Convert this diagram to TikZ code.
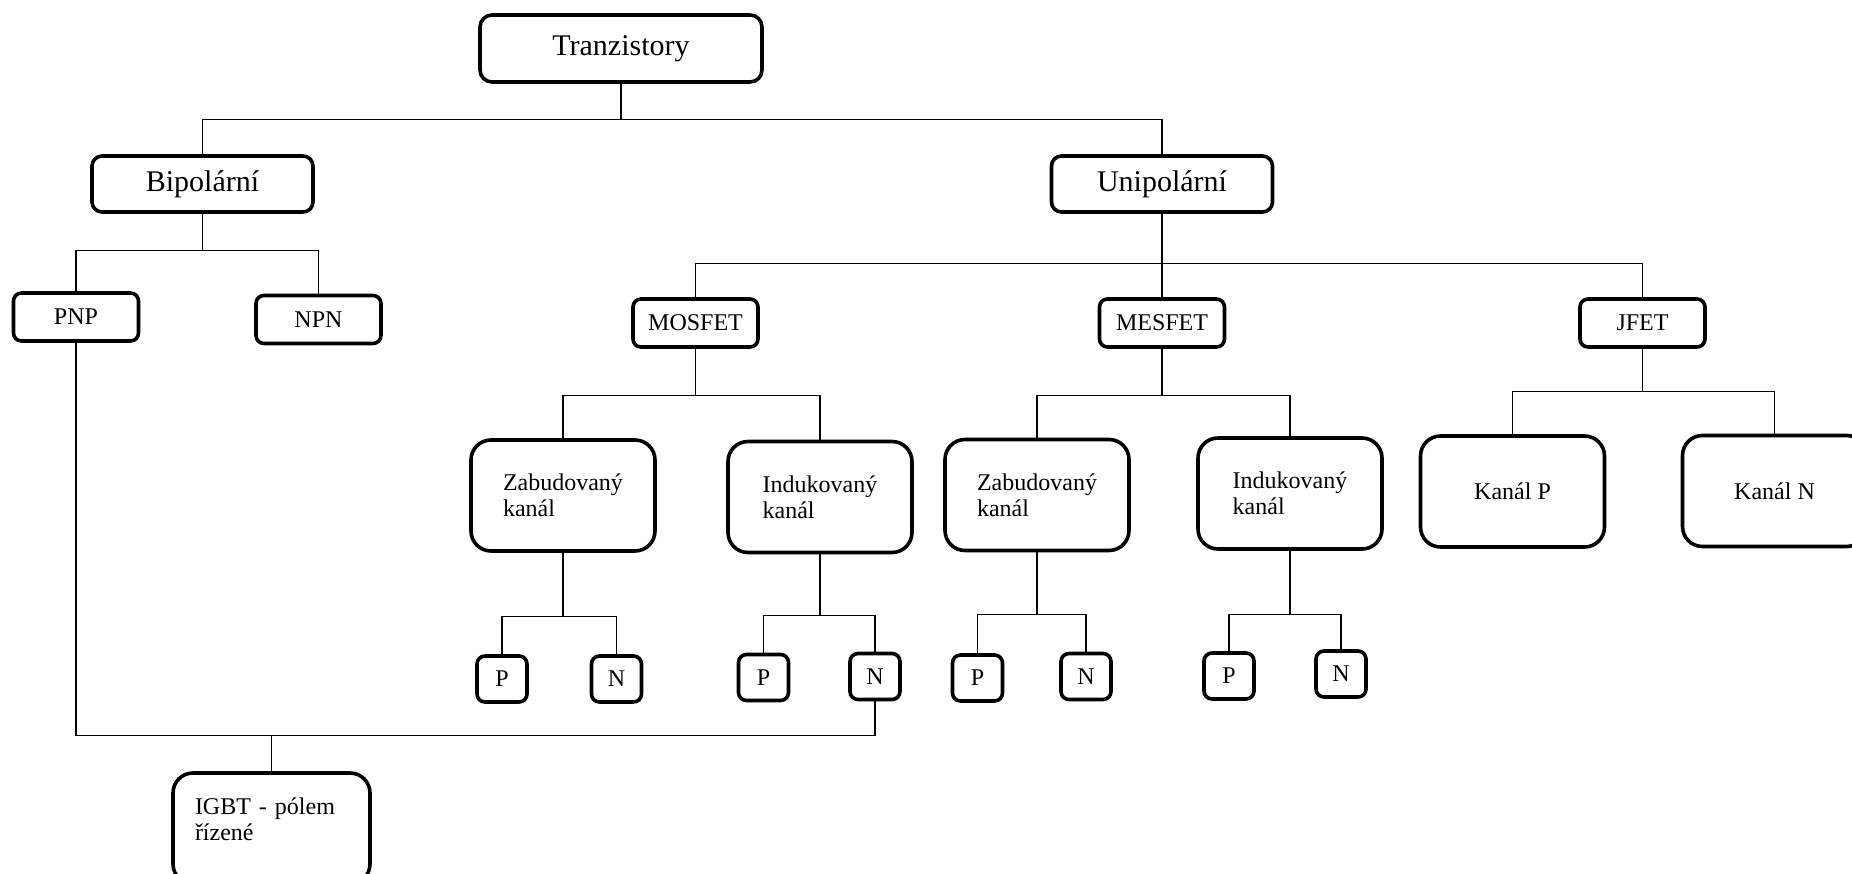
\documentclass[tikz,border=0pt]{standalone}
\usepackage{fontspec}
\setmainfont{Liberation Serif}
\begin{document}
\begin{tikzpicture}[x=0.5pt, y=-0.5pt,
    box/.style={draw, line width=1.8pt, inner sep=0pt},
    root/.style={box, rounded corners=6pt, minimum width=141pt, minimum height=33.5pt, font=\fontsize{15}{18}\selectfont},
    family/.style={box, rounded corners=5pt, minimum width=110.5pt, minimum height=28pt, font=\fontsize{15}{18}\selectfont},
    kind/.style={box, rounded corners=4pt, minimum width=62.5pt, minimum height=24pt, font=\fontsize{12}{13}\selectfont},
    chan/.style={box, rounded corners=10pt, minimum width=92pt, minimum height=55.5pt, align=left, font=\fontsize{12}{13}\selectfont},
    leaf/.style={box, rounded corners=4pt, minimum width=25pt, minimum height=23pt, font=\fontsize{12}{13}\selectfont},
    link/.style={line width=0.6pt}]
    \path[use as bounding box, clip] (0,0) rectangle (1852,873);

    \node[root] (tr) at (621,48.5) {Tranzistory};
    \node[family] (bip) at (202.5,184) {Bipolární};
    \node[family] (uni) at (1162,184) {Unipolární};

    \node[kind] (pnp) at (76,317) {PNP};
    \node[kind] (npn) at (318.5,319.5) {NPN};
    \node[kind] (mos) at (695.5,323) {MOSFET};
    \node[kind] (mes) at (1162,323) {MESFET};
    \node[kind] (jfet) at (1642.5,323) {JFET};

    \node[chan] (mz) at (563,495.5) {Zabudovaný\\kanál};
    \node[chan] (mi) at (820,497) {Indukovaný\\kanál};
    \node[chan] (ez) at (1037,495) {Zabudovaný\\kanál};
    \node[chan] (ei) at (1290,493.5) {Indukovaný\\kanál};
    \node[chan] (kp) at (1512.5,491.5) {Kanál P};
    \node[chan] (kn) at (1774.5,491) {Kanál N};

    \node[leaf] (mz-p) at (502,679) {P};
    \node[leaf] (mz-n) at (616.5,679) {N};
    \node[leaf] (mi-p) at (763.5,677.5) {P};
    \node[leaf] (mi-n) at (875,676.5) {N};
    \node[leaf] (ez-p) at (977.5,678) {P};
    \node[leaf] (ez-n) at (1086,676.5) {N};
    \node[leaf] (ei-p) at (1229,676) {P};
    \node[leaf] (ei-n) at (1341,674) {N};

    \node[chan, text width=76.5pt, inner xsep=11pt, minimum height=55.5pt] (igbt) at (271.5,828.5) {IGBT - pólem\\řízené\\[-3.5pt]\mbox{}};

    % tree connectors
    \draw[link] (tr.south) -- ++(0,36) -| (bip.north);
    \draw[link] (tr.south) -- ++(0,36) -| (uni.north);
    \draw[link] (bip.south) -- ++(0,37) -| (pnp.north);
    \draw[link] (bip.south) -- ++(0,37) -| (npn.north);
    \draw[link] (uni.south) -- ++(0,50) -| (mos.north);
    \draw[link] (uni.south) -- (mes.north);
    \draw[link] (uni.south) -- ++(0,50) -| (jfet.north);
    \draw[link] (mos.south) -- ++(0,47) -| (mz.north);
    \draw[link] (mos.south) -- ++(0,47) -| (mi.north);
    \draw[link] (mes.south) -- ++(0,47) -| (ez.north);
    \draw[link] (mes.south) -- ++(0,47) -| (ei.north);
    \draw[link] (jfet.south) -- ++(0,43) -| (kp.north);
    \draw[link] (jfet.south) -- ++(0,43) -| (kn.north);
    \draw[link] (mz.south) -- ++(0,64) -| (mz-p.north);
    \draw[link] (mz.south) -- ++(0,64) -| (mz-n.north);
    \draw[link] (mi.south) -- ++(0,61) -| (mi-p.north);
    \draw[link] (mi.south) -- ++(0,61) -| (mi-n.north);
    \draw[link] (ez.south) -- ++(0,62) -| (ez-p.north);
    \draw[link] (ez.south) -- ++(0,62) -| (ez-n.north);
    \draw[link] (ei.south) -- ++(0,64) -| (ei-p.north);
    \draw[link] (ei.south) -- ++(0,64) -| (ei-n.north);

    % IGBT
    \draw[link] (igbt.north) -- ++(0,-36) coordinate (bar);
    \draw[link] (pnp.south) |- (bar) -| (mi-n.south);
\end{tikzpicture}
\end{document}
